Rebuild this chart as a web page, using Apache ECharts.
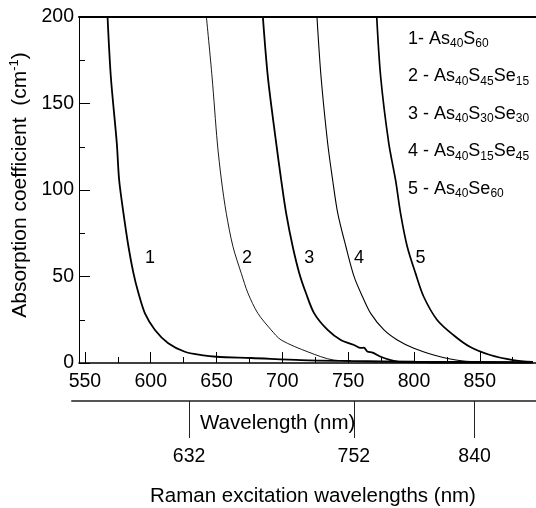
<!DOCTYPE html>
<html><head><meta charset="utf-8">
<script src="https://cdn.jsdelivr.net/npm/echarts@6/dist/echarts.min.js"></script>
<style>html,body{margin:0;padding:0;background:#fff}#c{width:536px;height:508px}</style>
</head><body><div id="c"></div>
<script>
const FONT = '"Liberation Sans", Arial, Helvetica, sans-serif';

// tick labels
const xTicks = [550, 600, 650, 700, 750, 800, 850];
const xMinorTicks = [575, 625, 675, 725, 775, 825, 875];
const ramanTicks = [632, 752, 840];

// curves: wavelength (nm) and absorption coefficient (cm-1)
const c1X = [567.2, 569.7, 574.2, 576.0, 579.3, 583.1, 586.9, 590.7, 595.6, 603.2, 613.3, 625.9, 638.5, 649.9, 676.4, 714.2, 752, 800, 890];
const c1Y = [200, 165.3, 127.2, 105.8, 86.5, 67.2, 51.8, 40.3, 28.7, 19.1, 11.4, 6.5, 4.6, 3.6, 2.9, 1.7, 1.2, 0.8, 0.5];
const c2X = [642.3, 646.6, 650.6, 653.7, 657.4, 662.5, 668.8, 673.9, 681.4, 691.5, 699.1, 719.5, 739.1, 774.7, 827.6, 890];
const c2Y = [200, 165.3, 127.2, 105.8, 86.5, 67.2, 51.8, 40.3, 28.7, 19.1, 13.3, 6.4, 1.7, 0.6, 0.3, 0.2];
const c3X = [685.2, 689.0, 695.3, 699.1, 702.9, 707.9, 712.9, 718.0, 724.2, 734.4, 744.4, 754.5, 759.6, 761.9, 764.6, 768.6, 774.7, 782.3, 789.8, 812.5, 890];
const c3Y = [200, 165.3, 127.2, 105.8, 86.5, 67.2, 51.8, 40.3, 28.7, 19.1, 13.3, 10.4, 8.7, 8.9, 6.6, 6.0, 3.6, 1.7, 0.6, 0.3, 0.2];
const c4X = [726.3, 729.4, 734.4, 738.2, 742.1, 748.3, 754.5, 760.9, 767.1, 777.2, 787.3, 799.9, 815.0, 827.6, 842.8, 890];
const c4Y = [200, 165.3, 127.2, 105.8, 86.5, 67.2, 49.9, 38.3, 28.7, 19.1, 13.3, 8.5, 4.6, 2.3, 0.9, 0.2];
const c5X = [771.7, 774.7, 780.8, 786.0, 789.8, 794.9, 801.2, 807.4, 817.6, 829.9, 842.8, 857.9, 875.3, 890.4];
const c5Y = [200, 165.3, 127.2, 105.8, 86.5, 67.2, 51.8, 38.3, 24.9, 16.2, 9.2, 4.6, 1.7, 0.6];

// curve number labels
const curveLabels = ['1', '2', '3', '4', '5'];
const curveLabelX = [599.4, 673.1, 720.5, 758.3, 805];
const curveLabelY = [60.5, 60.5, 60.5, 60.5, 60.5];

// legend texts (rich markup: m = main, s = subscript)
const legendLabels = [
  '{m|1- As}{s|40}{m|S}{s|60}',
  '{m|2 - As}{s|40}{m|S}{s|45}{m|Se}{s|15}',
  '{m|3 - As}{s|40}{m|S}{s|30}{m|Se}{s|30}',
  '{m|4 - As}{s|40}{m|S}{s|15}{m|Se}{s|45}',
  '{m|5 - As}{s|40}{m|Se}{s|60}'
];

const zip = (xs, ys) => xs.map((x, i) => [x, ys[i]]);
const curves = [[c1X, c1Y, 1.8], [c2X, c2Y, 0.9], [c3X, c3Y, 1.8], [c4X, c4Y, 1.1], [c5X, c5Y, 1.7]];

const XMIN = 545.5, XMAX = 892.7;
const richMain = { m: { fontSize: 18, lineHeight: 22, fontFamily: FONT, color: '#000' },
                   s: { fontSize: 12, lineHeight: 12, verticalAlign: 'bottom', fontFamily: FONT, color: '#000' } };

const chart = echarts.init(document.getElementById('c'), null, { renderer: 'canvas' });
chart.setOption({
  animation: false,
  backgroundColor: '#fff',
  grid: [
    { left: 77, right: 0, top: 17, bottom: 145, containLabel: false },
    { left: 72, right: 0, top: 380, bottom: 107, containLabel: false }
  ],
  xAxis: [
    { type: 'value', gridIndex: 0, min: XMIN, max: XMAX, position: 'bottom',
      axisLine: { show: true, lineStyle: { color: '#000', width: 1.6 } },
      axisTick: { show: true, inside: true, length: 11, customValues: xTicks, lineStyle: { color: '#000', width: 1 } },
      axisLabel: { show: true, customValues: xTicks, margin: 9, fontSize: 19.5, fontFamily: FONT, color: '#000' },
      splitLine: { show: false } },
    { type: 'value', gridIndex: 0, min: XMIN, max: XMAX, position: 'bottom',
      axisLine: { show: false },
      axisTick: { show: true, inside: true, length: 6, customValues: xMinorTicks, lineStyle: { color: '#000', width: 1 } },
      axisLabel: { show: false }, splitLine: { show: false } },
    { type: 'value', gridIndex: 0, min: XMIN, max: XMAX, position: 'top',
      axisLine: { show: true, lineStyle: { color: '#000', width: 2 } },
      axisTick: { show: false }, axisLabel: { show: false }, splitLine: { show: false } },
    { type: 'value', gridIndex: 1, min: 546.7, max: 884.7, position: 'bottom',
      name: 'Raman excitation wavelengths (nm)', nameLocation: 'middle', nameGap: 85,
      nameTextStyle: { fontSize: 20.5, fontFamily: FONT, color: '#000', padding: [0, 0, 0, 18] },
      axisLine: { show: true, lineStyle: { color: '#555', width: 2 } },
      axisTick: { show: true, inside: false, length: 37, customValues: ramanTicks, lineStyle: { color: '#222', width: 1 } },
      axisLabel: { show: true, customValues: ramanTicks, margin: 46, fontSize: 19.5, fontFamily: FONT, color: '#000' },
      splitLine: { show: false } }
  ],
  yAxis: [
    { type: 'value', gridIndex: 0, min: 0, max: 200, interval: 50,
      name: '{m|Absorption coefficient  (cm}{s|-1}{m|)}', nameLocation: 'middle', nameGap: 47, nameRotate: 90,
      nameTextStyle: { padding: [0, 0, 0, 10], rich: { m: { fontSize: 21, lineHeight: 24, fontFamily: FONT, color: '#000' },
                               s: { fontSize: 13, lineHeight: 13, verticalAlign: 'top', fontFamily: FONT, color: '#000' } } },
      axisLine: { show: true, lineStyle: { color: '#000', width: 1 } },
      axisTick: { show: true, inside: true, length: 11, lineStyle: { color: '#000' } },
      minorTick: { show: true, splitNumber: 2, length: 6, lineStyle: { color: '#000' } },
      axisLabel: { margin: 5, fontSize: 19.5, fontFamily: FONT, color: '#000' },
      splitLine: { show: false }, minorSplitLine: { show: false } },
    { type: 'value', gridIndex: 1, show: false, min: 0, max: 1 }
  ],
  graphic: legendLabels.map((t, i) => ({
    type: 'text', left: 408, top: 30 + i * 37.5,
    style: { text: t, rich: richMain, fill: '#000', font: '18px ' + FONT }
  })).concat([{
    type: 'text', left: 200, top: 413,
    style: { text: 'Wavelength (nm)', fill: '#000', font: '20.5px ' + FONT }
  }]),
  series: curves.map((c, i) => ({
    type: 'line', xAxisIndex: 0, yAxisIndex: 0, data: zip(c[0], c[1]),
    showSymbol: false, smooth: 0.3, clip: true,
    lineStyle: { color: '#000', width: c[2] }, z: 3
  })).concat([{
    type: 'scatter', xAxisIndex: 0, yAxisIndex: 0, symbolSize: 0,
    itemStyle: { opacity: 1, color: '#000' },
    data: zip(curveLabelX, curveLabelY),
    label: { show: true, position: 'inside', formatter: p => curveLabels[p.dataIndex],
             fontSize: 18, fontFamily: FONT, color: '#000', opacity: 1 }
  }])
});
</script></body></html>
